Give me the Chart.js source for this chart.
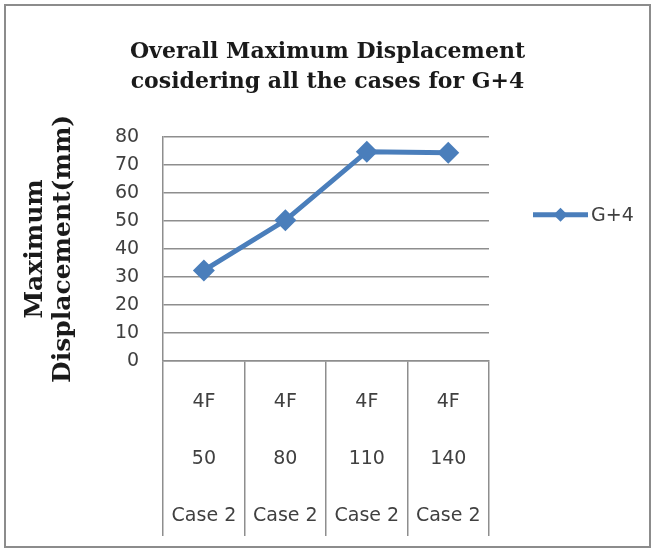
<!DOCTYPE html>
<html>
<head>
<meta charset="utf-8">
<script src="https://cdn.jsdelivr.net/npm/chart.js@4/dist/chart.umd.min.js"></script>
<style>
  html, body { margin: 0; padding: 0; background: #fff; }
  #wrap { width: 655px; height: 551px; position: relative; }
</style>
</head>
<body>
<div id="wrap"><canvas id="c" width="655" height="551"></canvas></div>
<script>
// Category rows shown under each point
const floors = ['4F', '4F', '4F', '4F'];
const spans = ['50', '80', '110', '140'];
const cases = ['Case 2', 'Case 2', 'Case 2', 'Case 2'];
// Maximum displacement (mm)
const displacement = [32.3, 50.2, 74.7, 74.3];
const seriesName = 'G+4';
const yTicks = [0, 10, 20, 30, 40, 50, 60, 70, 80];

const labels = floors.map((f, i) => [f, spans[i], cases[i]]);
const blue = '#4a7ebb';
const gridGray = '#8e8e8e';
const textGray = '#404040';
const labelFont = 'DejaVu Sans';

// Category table under the plot: divider lines are the x grid tick marks,
// the three label rows sit between them
const tableDepth = 175;
const rowHeight = 57;
const firstRowOffset = 41;

// Page frame behind the chart
const framePlugin = {
  id: 'frame',
  beforeDraw(chart) {
    const ctx = chart.ctx;
    ctx.save();
    ctx.fillStyle = '#ffffff';
    ctx.fillRect(0, 0, chart.width, chart.height);
    ctx.strokeStyle = '#8c8c8c';
    ctx.lineWidth = 2;
    ctx.strokeRect(5, 5, chart.width - 10, chart.height - 9);
    ctx.restore();
  }
};

// Right-hand legend box: reserves its column in the layout and draws
// a line segment with a diamond marker followed by the series name
const lineLegendPlugin = {
  id: 'lineLegend',
  beforeInit(chart) {
    const box = {
      position: 'right',
      weight: 1000,
      fullSize: false,
      options: {},
      left: 0, top: 0, right: 0, bottom: 0, width: 0, height: 0,
      isHorizontal() { return false; },
      update(maxWidth, maxHeight) { this.width = 166; this.height = maxHeight; },
      draw() {
        const ds = chart.data.datasets[0];
        const area = chart.chartArea;
        const ctx = chart.ctx;
        const x0 = this.left + 44;
        const x1 = x0 + 55;
        const y = area.top + 78;
        ctx.save();
        ctx.strokeStyle = ds.borderColor;
        ctx.lineWidth = ds.borderWidth;
        ctx.beginPath();
        ctx.moveTo(x0, y);
        ctx.lineTo(x1, y);
        ctx.stroke();
        ctx.fillStyle = ds.backgroundColor;
        Chart.helpers.drawPoint(ctx, { pointStyle: 'rectRot', radius: 7, borderWidth: 0 }, (x0 + x1) / 2, y);
        ctx.fillStyle = textGray;
        ctx.font = '19px "' + labelFont + '"';
        ctx.textBaseline = 'middle';
        ctx.textAlign = 'left';
        ctx.fillText(ds.label, x1 + 3, y + 1);
        ctx.restore();
      }
    };
    Chart.layouts.addBox(chart, box);
  }
};

new Chart(document.getElementById('c'), {
  type: 'line',
  data: {
    labels: labels,
    datasets: [{
      label: seriesName,
      data: displacement,
      borderColor: blue,
      backgroundColor: blue,
      borderWidth: 5,
      pointStyle: 'rectRot',
      pointRadius: 11,
      pointBorderWidth: 0,
      pointBackgroundColor: blue,
      tension: 0
    }]
  },
  options: {
    responsive: false,
    animation: false,
    devicePixelRatio: 1,
    layout: { padding: { left: 0, right: 0, top: 0, bottom: 6 } },
    plugins: {
      legend: { display: false },
      tooltip: { enabled: false },
      title: {
        display: true,
        text: ['Overall Maximum Displacement', 'cosidering all the cases for G+4'],
        color: '#1a1a1a',
        font: { family: 'DejaVu Serif', weight: 'bold', size: 22, lineHeight: 1.36 },
        padding: { top: 37, bottom: 40 }
      }
    },
    scales: {
      x: {
        type: 'category',
        offset: true,
        grid: {
          offset: true,
          drawOnChartArea: false,
          drawTicks: true,
          tickLength: tableDepth,
          color: gridGray,
          lineWidth: 1.5
        },
        border: { display: true, color: gridGray, width: 1.5 },
        ticks: {
          color: textGray,
          font: { family: labelFont, size: 19, lineHeight: rowHeight + 'px' },
          padding: firstRowOffset - rowHeight / 2 - tableDepth,
          maxRotation: 0,
          autoSkip: false
        },
        // the rows are pulled up inside the tick marks, so the axis box
        // is sized to hold all three of them
        afterFit(scale) {
          scale.height = Math.ceil(firstRowOffset - rowHeight / 2 + 3 * rowHeight);
        }
      },
      y: {
        min: 0,
        max: 80,
        afterBuildTicks(scale) { scale.ticks = yTicks.map(v => ({ value: v })); },
        grid: { color: gridGray, lineWidth: 1.5, drawTicks: false },
        border: { display: true, color: gridGray, width: 1.5 },
        ticks: {
          color: textGray,
          font: { family: labelFont, size: 19 },
          padding: 24,
          autoSkip: false
        },
        title: {
          display: true,
          text: ['Maximum', 'Displacement(mm)'],
          color: '#1a1a1a',
          font: { family: 'DejaVu Serif', weight: 'bold', size: 25, lineHeight: '28px' },
          padding: { top: 21, bottom: 14 }
        }
      }
    }
  },
  plugins: [framePlugin, lineLegendPlugin]
});
</script>
</body>
</html>
